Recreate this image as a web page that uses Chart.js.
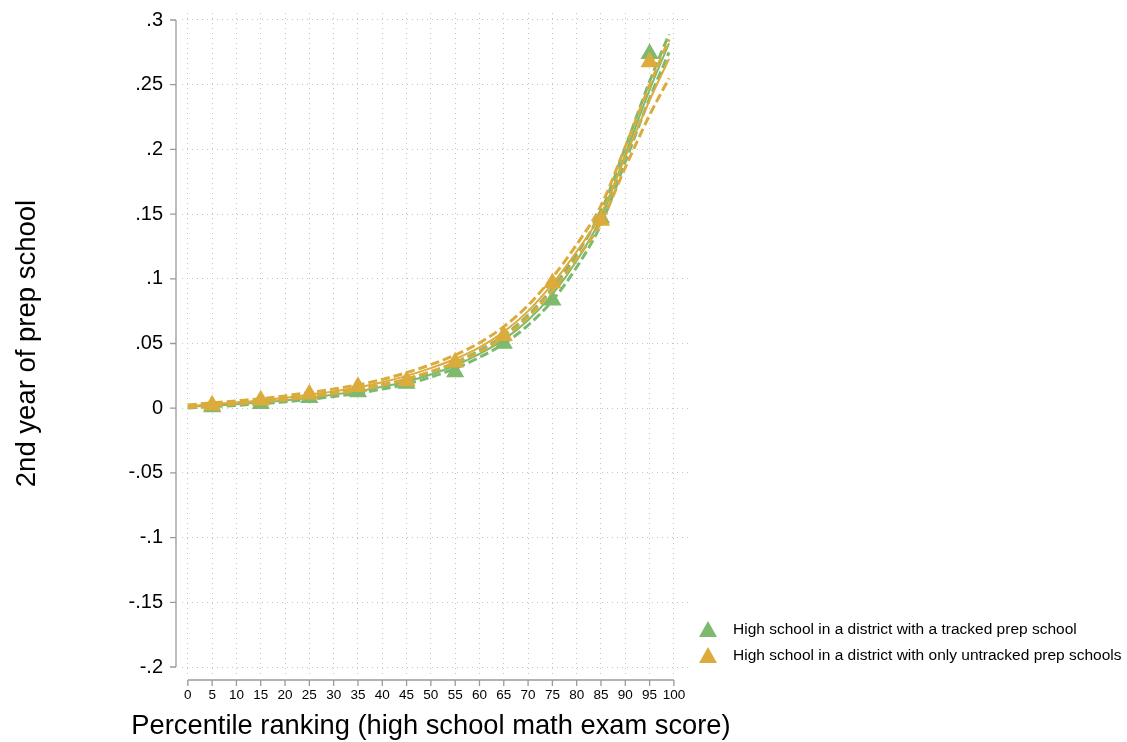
<!DOCTYPE html>
<html>
<head>
<meta charset="utf-8">
<script src="https://cdn.jsdelivr.net/npm/chart.js@4/dist/chart.umd.min.js"></script>
<style>
  body { margin: 0; background: #fff; font-family: "Liberation Sans", Arial, sans-serif; }
  #wrap { position: relative; width: 1127px; height: 742px; }
  #legend { position: absolute; left: 699px; top: 616px; }
  .item { display: flex; align-items: center; height: 26px; font-size: 15.5px; color: #000; }
  .tri { width: 18px; height: 16px; margin-right: 16px; clip-path: polygon(50% 0, 100% 100%, 0 100%); }
</style>
</head>
<body>
<div id="wrap">
  <canvas id="prepChart" width="1127" height="742"></canvas>
  <div id="legend"></div>
</div>
<script>
// percentile bins (scatter markers)
const xPoints = [5, 15, 25, 35, 45, 55, 65, 75, 85, 95];
const trackedPoints = [0.001, 0.0035, 0.008, 0.0125, 0.019, 0.028, 0.050, 0.0835, 0.147, 0.274];
const untrackedPoints = [0.0023, 0.0062, 0.0108, 0.0165, 0.021, 0.0356, 0.056, 0.0967, 0.145, 0.2676];

// fitted curves and confidence bands
const xFit = [0, 5, 10, 15, 20, 25, 30, 35, 40, 45, 50, 55, 60, 65, 70, 75, 80, 85, 90, 95, 99];
const trackedFit = [0.001, 0.002, 0.003, 0.0045, 0.006, 0.008, 0.0105, 0.013, 0.0165, 0.0205, 0.026, 0.033, 0.042, 0.053, 0.068, 0.088, 0.114, 0.147, 0.196, 0.246, 0.282];
const trackedLo = [0.0002, 0.0012, 0.0022, 0.0035, 0.0049, 0.0068, 0.0091, 0.0115, 0.0148, 0.0186, 0.024, 0.0307, 0.0393, 0.0498, 0.0641, 0.0832, 0.109, 0.142, 0.1905, 0.2395, 0.275];
const trackedHi = [0.0018, 0.0028, 0.0038, 0.0055, 0.0071, 0.0092, 0.0119, 0.0145, 0.0182, 0.0224, 0.028, 0.0353, 0.0447, 0.0562, 0.0719, 0.0928, 0.119, 0.152, 0.2015, 0.2525, 0.289];
const untrackedFit = [0.0015, 0.003, 0.0045, 0.006, 0.008, 0.0105, 0.013, 0.016, 0.02, 0.025, 0.031, 0.038, 0.047, 0.059, 0.075, 0.096, 0.121, 0.15, 0.194, 0.238, 0.27];
const untrackedLo = [0.0005, 0.0019, 0.0033, 0.0047, 0.0065, 0.0089, 0.0112, 0.014, 0.0178, 0.0225, 0.0283, 0.0349, 0.0435, 0.055, 0.0705, 0.091, 0.1155, 0.1435, 0.186, 0.2265, 0.255];
const untrackedHi = [0.0025, 0.0041, 0.0057, 0.0073, 0.0095, 0.0121, 0.0148, 0.018, 0.0222, 0.0275, 0.0337, 0.0411, 0.0505, 0.063, 0.0795, 0.101, 0.1265, 0.1565, 0.202, 0.2495, 0.285];

const seriesNames = ['High school in a district with a tracked prep school',
                     'High school in a district with only untracked prep schools'];
const xTitle = 'Percentile ranking (high school math exam score)';
const xTicks = [0, 5, 10, 15, 20, 25, 30, 35, 40, 45, 50, 55, 60, 65, 70, 75, 80, 85, 90, 95, 100];
const yTicks = [-0.2, -0.15, -0.1, -0.05, 0, 0.05, 0.1, 0.15, 0.2, 0.25, 0.3];

const green = '#7dba6e';
const yellow = '#dbab3b';
const font = '"Liberation Sans", Arial, sans-serif';

function pts(xs, ys) {
  return xs.map(function (x, i) { return { x: x, y: ys[i] }; });
}
function markers(label, ys, color) {
  return { label: label, data: pts(xPoints, ys), showLine: false, pointStyle: 'triangle',
    pointRadius: 10.5, pointHoverRadius: 10.5, backgroundColor: color, borderWidth: 0 };
}
function curve(ys, color, dashed) {
  return { data: pts(xFit, ys), showLine: true, borderColor: color, borderWidth: dashed ? 3 : 2,
    borderDash: dashed ? [9, 4] : [], pointRadius: 0, cubicInterpolationMode: 'monotone', fill: false };
}

// Stata-style axes sitting a little off the plot region, plus the wide x title
const axisLines = {
  id: 'axisLines',
  afterDraw(chart) {
    const ctx = chart.ctx, area = chart.chartArea, x = chart.scales.x, y = chart.scales.y;
    const ax = area.left - 6, ay = area.bottom + 6;
    ctx.save();
    ctx.strokeStyle = '#9a9a9a';
    ctx.lineWidth = 1.3;
    ctx.beginPath();
    ctx.moveTo(ax, y.getPixelForValue(yTicks[yTicks.length - 1]));
    ctx.lineTo(ax, y.getPixelForValue(yTicks[0]));
    yTicks.forEach(function (v) { const p = y.getPixelForValue(v); ctx.moveTo(ax - 6, p); ctx.lineTo(ax, p); });
    ctx.moveTo(x.getPixelForValue(xTicks[0]), ay);
    ctx.lineTo(x.getPixelForValue(xTicks[xTicks.length - 1]), ay);
    xTicks.forEach(function (v) { const p = x.getPixelForValue(v); ctx.moveTo(p, ay); ctx.lineTo(p, ay + 6); });
    ctx.stroke();

    ctx.fillStyle = '#000';
    ctx.font = '27.3px ' + font;
    ctx.textAlign = 'center';
    ctx.textBaseline = 'middle';
    ctx.fillText(xTitle, (area.left + area.right) / 2 - 4, chart.height - 16);
    ctx.restore();
  }
};

let prepChart = new Chart(document.getElementById('prepChart'), {
  type: 'scatter',
  data: {
    datasets: [
      markers(seriesNames[1], untrackedPoints, yellow),
      curve(untrackedFit, yellow, false),
      curve(untrackedLo, yellow, true),
      curve(untrackedHi, yellow, true),
      markers(seriesNames[0], trackedPoints, green),
      curve(trackedFit, green, false),
      curve(trackedLo, green, true),
      curve(trackedHi, green, true)
    ]
  },
  options: {
    responsive: false,
    animation: false,
    layout: { padding: { top: 13, right: 439, bottom: 0, left: 0 } },
    plugins: { legend: { display: false }, tooltip: { enabled: false } },
    scales: {
      x: {
        type: 'linear', min: -1.2, max: 102.9,
        afterBuildTicks: function (s) { s.ticks = xTicks.map(function (v) { return { value: v }; }); },
        afterFit: function (s) { s.height = 68; },
        grid: { color: '#c4c4c4', drawTicks: true, tickLength: 13, tickColor: 'rgba(0,0,0,0)' },
        border: { display: false, dash: [1, 4] },
        ticks: { padding: 0, color: '#000', font: { family: font, size: 13.5 }, maxRotation: 0, autoSkip: false }
      },
      y: {
        type: 'linear', min: -0.2054, max: 0.3054,
        afterBuildTicks: function (s) { s.ticks = yTicks.map(function (v) { return { value: v }; }); },
        afterFit: function (s) { s.width = 182; },
        grid: { color: '#c4c4c4', drawTicks: true, tickLength: 19, tickColor: 'rgba(0,0,0,0)' },
        border: { display: false, dash: [1, 4] },
        ticks: {
          padding: 0, color: '#000', font: { family: font, size: 20 },
          callback: function (v) {
            const r = Math.round(v * 100) / 100;
            return r === 0 ? '0' : String(r).replace('0.', '.');
          }
        },
        title: { display: true, text: '2nd year of prep school', color: '#000',
          font: { family: font, size: 27.5 }, padding: { top: 11, bottom: 0 } }
      }
    }
  },
  plugins: [axisLines]
});

// legend
const legendColors = [green, yellow];
document.getElementById('legend').innerHTML = seriesNames.map(function (name, i) {
  return '<div class="item"><span class="tri" style="background:' + legendColors[i] + '"></span>' + name + '</div>';
}).join('');
</script>
</body>
</html>
